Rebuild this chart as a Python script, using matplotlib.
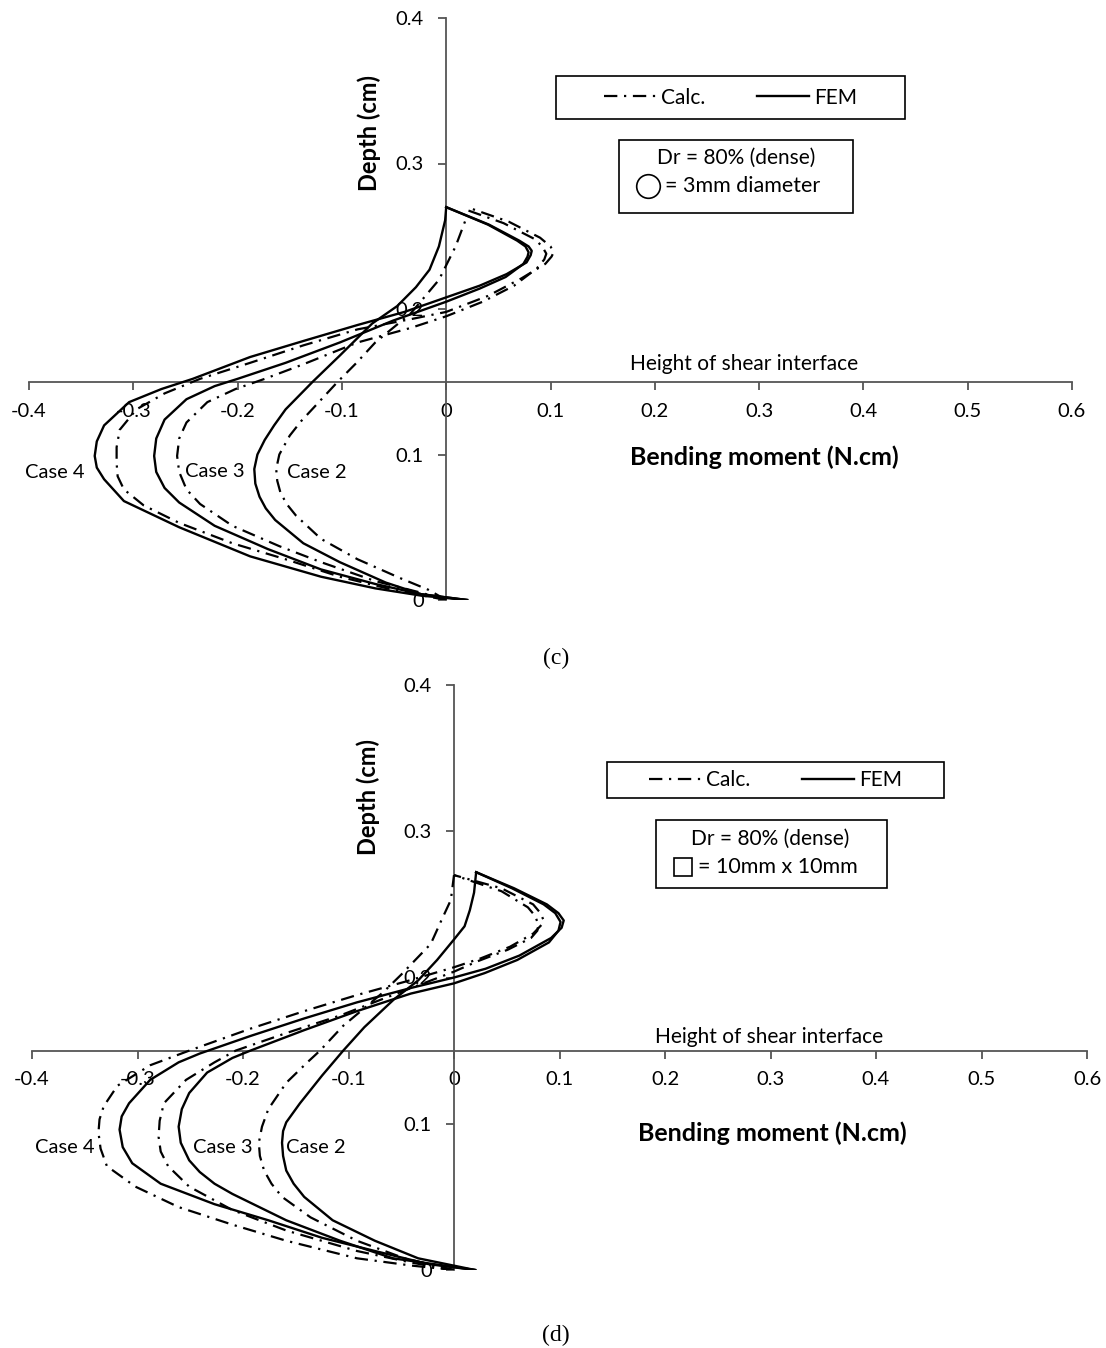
import matplotlib
matplotlib.use("Agg")
import matplotlib.pyplot as plt
from matplotlib.lines import Line2D
from matplotlib.patches import Rectangle

# ---------------- data ----------------
x_ticks = [-0.4, -0.3, -0.2, -0.1, 0.0, 0.1, 0.2, 0.3, 0.4, 0.5, 0.6]
x_tick_labels = ["-0.4", "-0.3", "-0.2", "-0.1", "0", "0.1", "0.2", "0.3", "0.4", "0.5", "0.6"]
y_ticks = [0.0, 0.1, 0.2, 0.3, 0.4]
y_tick_labels = ["0", "0.1", "0.2", "0.3", "0.4"]
shear_interface_depth = 0.15
case_names = ["Case 4", "Case 3", "Case 2"]

# Panel (c): circular pile, 3 mm diameter  -- moment (N.cm) vs depth (cm)
c_case2_fem_m = [0.020, -0.024, -0.058, -0.102, -0.137, -0.164, -0.173, -0.179, -0.183, -0.184, -0.181, -0.174, -0.165, -0.154, -0.128, -0.102, -0.071, -0.047, -0.029, -0.016, -0.007, -0.001, 0.000]
c_case2_fem_d = [0.000, 0.004, 0.012, 0.026, 0.039, 0.055, 0.063, 0.071, 0.080, 0.090, 0.100, 0.110, 0.120, 0.131, 0.150, 0.168, 0.190, 0.202, 0.215, 0.227, 0.243, 0.261, 0.270]
c_case2_calc_m = [0.000, -0.017, -0.044, -0.085, -0.120, -0.144, -0.153, -0.159, -0.162, -0.163, -0.160, -0.150, -0.139, -0.126, -0.104, -0.086, -0.068, -0.034, -0.007, 0.009, 0.019]
c_case2_calc_d = [0.000, 0.007, 0.015, 0.028, 0.042, 0.058, 0.066, 0.074, 0.082, 0.090, 0.100, 0.113, 0.123, 0.133, 0.150, 0.163, 0.177, 0.197, 0.220, 0.243, 0.262]
c_case3_fem_m = [0.020, -0.024, -0.068, -0.120, -0.171, -0.222, -0.256, -0.270, -0.278, -0.280, -0.278, -0.270, -0.249, -0.222, -0.200, -0.154, -0.102, -0.051, 0.000, 0.032, 0.057, 0.074, 0.078, 0.079, 0.076, 0.068, 0.040, 0.000]
c_case3_fem_d = [0.000, 0.004, 0.011, 0.021, 0.035, 0.051, 0.067, 0.077, 0.088, 0.099, 0.111, 0.124, 0.138, 0.147, 0.152, 0.163, 0.177, 0.192, 0.205, 0.214, 0.222, 0.231, 0.236, 0.239, 0.243, 0.247, 0.258, 0.270]
c_case3_calc_m = [0.000, -0.024, -0.068, -0.120, -0.160, -0.205, -0.236, -0.249, -0.256, -0.258, -0.256, -0.249, -0.229, -0.202, -0.174, -0.137, -0.085, -0.034, 0.000, 0.035, 0.065, 0.087, 0.094, 0.096, 0.092, 0.085, 0.055, 0.020]
c_case3_calc_d = [0.000, 0.005, 0.013, 0.026, 0.037, 0.051, 0.066, 0.076, 0.088, 0.099, 0.111, 0.122, 0.136, 0.145, 0.152, 0.162, 0.177, 0.187, 0.195, 0.205, 0.216, 0.228, 0.234, 0.238, 0.243, 0.248, 0.259, 0.268]
c_case4_fem_m = [0.020, -0.024, -0.068, -0.120, -0.188, -0.256, -0.309, -0.328, -0.335, -0.337, -0.335, -0.328, -0.304, -0.273, -0.243, -0.188, -0.137, -0.085, -0.040, 0.000, 0.032, 0.058, 0.077, 0.081, 0.082, 0.079, 0.070, 0.041, 0.000]
c_case4_fem_d = [0.000, 0.003, 0.008, 0.016, 0.030, 0.050, 0.068, 0.083, 0.091, 0.099, 0.109, 0.120, 0.136, 0.145, 0.152, 0.167, 0.178, 0.189, 0.198, 0.208, 0.216, 0.224, 0.232, 0.237, 0.240, 0.243, 0.247, 0.258, 0.270]
c_case4_calc_m = [0.000, -0.051, -0.102, -0.154, -0.205, -0.256, -0.290, -0.309, -0.315, -0.316, -0.316, -0.313, -0.297, -0.270, -0.236, -0.188, -0.137, -0.085, -0.034, 0.000, 0.040, 0.072, 0.095, 0.101, 0.103, 0.100, 0.090, 0.060, 0.020]
c_case4_calc_d = [0.000, 0.007, 0.016, 0.028, 0.039, 0.053, 0.065, 0.076, 0.085, 0.094, 0.105, 0.117, 0.131, 0.142, 0.152, 0.163, 0.175, 0.186, 0.193, 0.198, 0.209, 0.221, 0.231, 0.236, 0.239, 0.243, 0.249, 0.260, 0.270]

# Panel (d): square pile, 10 mm x 10 mm
d_case2_fem_m = [0.020, -0.034, -0.075, -0.115, -0.142, -0.152, -0.159, -0.162, -0.163, -0.162, -0.159, -0.146, -0.125, -0.105, -0.085, -0.057, -0.034, -0.016, 0.000, 0.010, 0.015, 0.019, 0.021]
d_case2_fem_d = [0.000, 0.008, 0.020, 0.034, 0.050, 0.059, 0.068, 0.078, 0.087, 0.095, 0.101, 0.114, 0.133, 0.150, 0.166, 0.185, 0.198, 0.212, 0.226, 0.235, 0.246, 0.258, 0.272]
d_case2_calc_m = [0.000, -0.047, -0.092, -0.136, -0.163, -0.173, -0.180, -0.184, -0.185, -0.182, -0.176, -0.159, -0.139, -0.127, -0.105, -0.085, -0.067, -0.050, -0.034, -0.022, -0.012, -0.003, 0.000]
d_case2_calc_d = [0.000, 0.008, 0.020, 0.036, 0.050, 0.059, 0.068, 0.078, 0.087, 0.098, 0.110, 0.128, 0.142, 0.150, 0.167, 0.179, 0.190, 0.202, 0.214, 0.223, 0.239, 0.253, 0.270]
d_case3_fem_m = [0.020, -0.058, -0.108, -0.159, -0.210, -0.227, -0.241, -0.251, -0.259, -0.261, -0.258, -0.251, -0.234, -0.210, -0.193, -0.142, -0.092, -0.041, 0.000, 0.029, 0.060, 0.090, 0.099, 0.101, 0.096, 0.085, 0.055, 0.021]
d_case3_fem_d = [0.000, 0.008, 0.020, 0.034, 0.052, 0.059, 0.067, 0.075, 0.087, 0.098, 0.110, 0.121, 0.135, 0.145, 0.150, 0.164, 0.177, 0.189, 0.196, 0.203, 0.212, 0.224, 0.232, 0.238, 0.244, 0.250, 0.261, 0.272]
d_case3_calc_m = [0.000, -0.040, -0.092, -0.159, -0.210, -0.251, -0.271, -0.278, -0.280, -0.279, -0.275, -0.254, -0.227, -0.207, -0.159, -0.108, -0.058, 0.000, 0.022, 0.051, 0.073, 0.079, 0.080, 0.077, 0.070, 0.045, 0.000]
d_case3_calc_d = [0.000, 0.005, 0.013, 0.027, 0.041, 0.057, 0.071, 0.081, 0.091, 0.102, 0.114, 0.130, 0.142, 0.150, 0.162, 0.174, 0.188, 0.204, 0.211, 0.219, 0.227, 0.232, 0.236, 0.242, 0.248, 0.259, 0.270]
d_case4_fem_m = [0.020, -0.024, -0.075, -0.125, -0.176, -0.227, -0.278, -0.305, -0.314, -0.317, -0.315, -0.308, -0.288, -0.261, -0.241, -0.193, -0.142, -0.092, -0.040, 0.000, 0.030, 0.062, 0.092, 0.102, 0.104, 0.099, 0.088, 0.057, 0.021]
d_case4_fem_d = [0.000, 0.004, 0.013, 0.022, 0.034, 0.045, 0.059, 0.073, 0.084, 0.096, 0.105, 0.114, 0.130, 0.142, 0.148, 0.160, 0.172, 0.183, 0.193, 0.200, 0.206, 0.215, 0.227, 0.234, 0.239, 0.244, 0.250, 0.261, 0.272]
d_case4_calc_m = [0.000, -0.040, -0.092, -0.159, -0.210, -0.261, -0.302, -0.329, -0.335, -0.337, -0.336, -0.332, -0.319, -0.288, -0.251, -0.193, -0.142, -0.092, -0.047, 0.000, 0.025, 0.053, 0.075, 0.083, 0.085, 0.082, 0.075, 0.045, 0.000]
d_case4_calc_d = [0.000, 0.003, 0.008, 0.020, 0.031, 0.043, 0.057, 0.071, 0.083, 0.094, 0.103, 0.112, 0.126, 0.140, 0.150, 0.165, 0.177, 0.188, 0.197, 0.207, 0.213, 0.221, 0.230, 0.236, 0.239, 0.244, 0.250, 0.261, 0.270]

# ---------------- styling ----------------
plt.rcParams["font.family"] = ["Lato", "DejaVu Sans"]
plt.rcParams["text.color"] = "black"
AXIS_COLOR = "#555555"
CALC_STYLE = (0, (6, 3, 1, 3))
W, H = 1106, 1348

fig = plt.figure(figsize=(W / 100, H / 100), dpi=100)


def fx(px):
    return px / W


def fy(py):
    return 1 - py / H


def make_panel(rect, fem, calc, case_pos, shear_pos, xlabel_pos, ylabel_pos,
               legend_box, info_box, info_line1_pos, symbol_pos, symbol_marker,
               symbol_size, info_text, info_text_pos, caption, caption_pos):
    ax = fig.add_axes(rect)
    ax.set_xlim(-0.4, 0.6)
    ax.set_ylim(0, 0.4)
    ax.set_axisbelow(True)
    for s in ["top", "right"]:
        ax.spines[s].set_visible(False)
    ax.spines["left"].set_position(("data", 0))
    ax.spines["bottom"].set_position(("data", shear_interface_depth))
    for s in ["left", "bottom"]:
        ax.spines[s].set_color(AXIS_COLOR)
        ax.spines[s].set_linewidth(1.3)
    ax.set_xticks(x_ticks)
    ax.set_xticklabels(x_tick_labels)
    ax.set_yticks(y_ticks)
    ax.set_yticklabels(y_tick_labels)
    ax.tick_params(axis="x", direction="out", length=6, width=1.3, pad=9,
                   labelsize=14.5, color=AXIS_COLOR)
    ax.tick_params(axis="y", direction="out", length=6, width=1.3, pad=10,
                   labelsize=14.5, color=AXIS_COLOR)
    ax.patch.set_alpha(0)

    for m, d in fem:
        ax.plot(m, d, color="black", lw=1.7, solid_joinstyle="round", zorder=3)
    for m, d in calc:
        ax.plot(m, d, color="black", lw=1.6, linestyle=CALC_STYLE, zorder=3)

    for name, (cx, cy) in zip(case_names, case_pos):
        ax.text(cx, cy, name, ha="center", va="center", fontsize=14.5)

    ax.text(shear_pos[0], shear_pos[1], "Height of shear interface",
            ha="center", va="center", fontsize=15)
    ax.text(xlabel_pos[0], xlabel_pos[1], "Bending moment (N.cm)",
            ha="center", va="center", fontsize=18, fontweight="bold")
    ax.text(ylabel_pos[0], ylabel_pos[1], "Depth (cm)", rotation=90,
            ha="center", va="center", fontsize=17, fontweight="bold")

    # legend box
    x0, y0, x1, y1 = legend_box
    fig.patches.append(Rectangle((fx(x0), fy(y1)), fx(x1) - fx(x0), fy(y0) - fy(y1),
                                 transform=fig.transFigure, fill=False,
                                 edgecolor="black", lw=1.2))
    handles = [Line2D([], [], color="black", lw=1.6, linestyle=CALC_STYLE),
               Line2D([], [], color="black", lw=1.7)]
    fig.legend(handles, ["Calc.", "FEM"], ncol=2, loc="center",
               bbox_to_anchor=(fx((x0 + x1) / 2), fy((y0 + y1) / 2)),
               bbox_transform=fig.transFigure, frameon=False, fontsize=15,
               handlelength=2.5, handletextpad=0.25, columnspacing=2.5)

    # info box
    x0, y0, x1, y1 = info_box
    fig.patches.append(Rectangle((fx(x0), fy(y1)), fx(x1) - fx(x0), fy(y0) - fy(y1),
                                 transform=fig.transFigure, fill=False,
                                 edgecolor="black", lw=1.2))
    fig.text(fx(info_line1_pos[0]), fy(info_line1_pos[1]), "Dr = 80% (dense)",
             ha="center", va="center", fontsize=15)
    fig.add_artist(Line2D([fx(symbol_pos[0])], [fy(symbol_pos[1])],
                          marker=symbol_marker, markersize=symbol_size,
                          markerfacecolor="white", markeredgecolor="black",
                          markeredgewidth=1.2, linestyle="none",
                          transform=fig.transFigure))
    fig.text(fx(info_text_pos[0]), fy(info_text_pos[1]), info_text,
             ha="left", va="center", fontsize=15.5)

    fig.text(fx(caption_pos[0]), fy(caption_pos[1]), caption, ha="center",
             va="center", fontsize=17, family="Liberation Serif")
    return ax


# panel (c)
make_panel(
    rect=[fx(29), fy(600), fx(1072) - fx(29), fy(18) - fy(600)],
    fem=[(c_case2_fem_m, c_case2_fem_d), (c_case3_fem_m, c_case3_fem_d), (c_case4_fem_m, c_case4_fem_d)],
    calc=[(c_case2_calc_m, c_case2_calc_d), (c_case3_calc_m, c_case3_calc_d), (c_case4_calc_m, c_case4_calc_d)],
    case_pos=[(-0.375, 0.0873), (-0.2215, 0.088), (-0.1237, 0.0873)],
    shear_pos=(0.2857, 0.1622),
    xlabel_pos=(0.305, 0.0983),
    ylabel_pos=(-0.0738, 0.321),
    legend_box=(556, 76, 905, 119),
    info_box=(619, 140, 853, 213),
    info_line1_pos=(736, 158),
    symbol_pos=(648, 186), symbol_marker="o", symbol_size=17,
    info_text="= 3mm diameter", info_text_pos=(665, 186),
    caption="(c)", caption_pos=(556, 658),
)

# panel (d)
make_panel(
    rect=[fx(32), fy(1270), fx(1087) - fx(32), fy(685) - fy(1270)],
    fem=[(d_case2_fem_m, d_case2_fem_d), (d_case3_fem_m, d_case3_fem_d), (d_case4_fem_m, d_case4_fem_d)],
    calc=[(d_case2_calc_m, d_case2_calc_d), (d_case3_calc_m, d_case3_calc_d), (d_case4_calc_m, d_case4_calc_d)],
    case_pos=[(-0.3687, 0.0841), (-0.219, 0.0841), (-0.1308, 0.0841)],
    shear_pos=(0.2986, 0.1593),
    xlabel_pos=(0.3014, 0.0937),
    ylabel_pos=(-0.0815, 0.3234),
    legend_box=(607, 762, 944, 798),
    info_box=(656, 820, 887, 888),
    info_line1_pos=(770, 839),
    symbol_pos=(683, 867), symbol_marker="s", symbol_size=13,
    info_text="= 10mm x 10mm", info_text_pos=(698, 867),
    caption="(d)", caption_pos=(556, 1335),
)

fig.savefig("out.png", dpi=100, facecolor="white")
